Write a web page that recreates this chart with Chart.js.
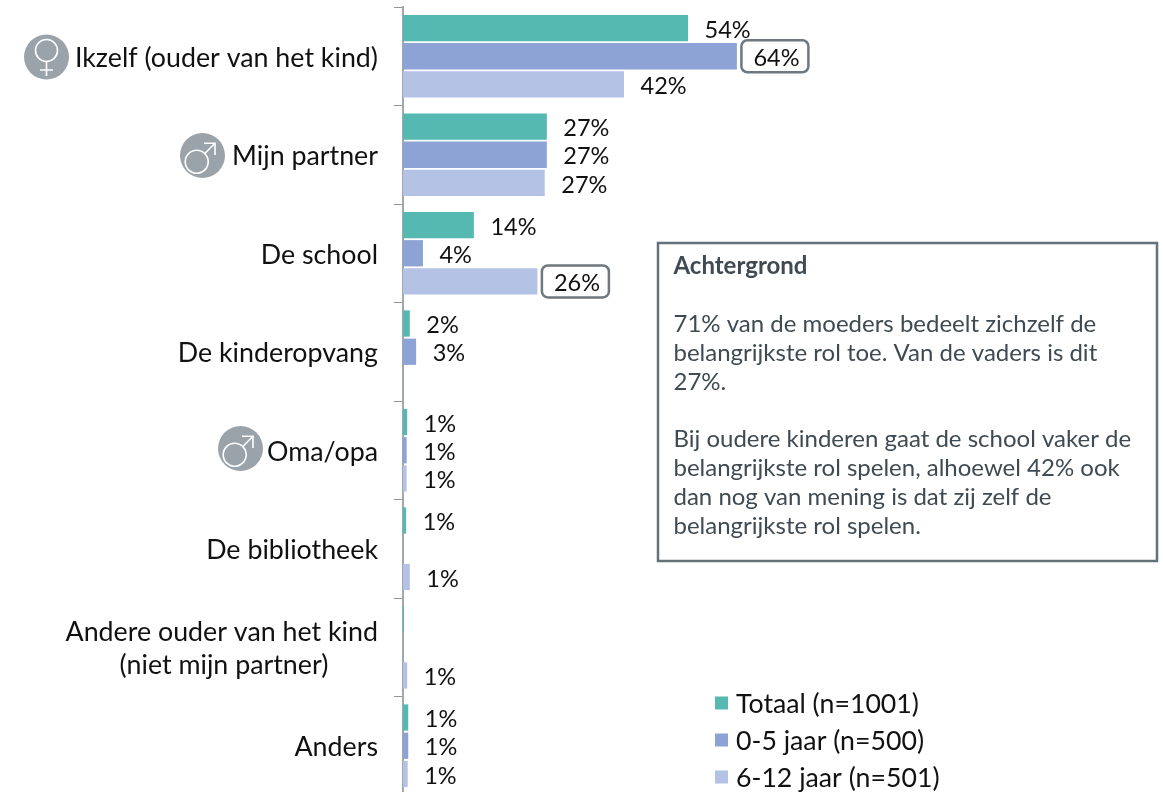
<!DOCTYPE html>
<html>
<head>
<meta charset="utf-8">
<style>
html,body{margin:0;padding:0;background:#fff;overflow:hidden;width:1163px;height:792px}
canvas{display:block}
</style>
<script src="https://cdn.jsdelivr.net/npm/chart.js@4"></script>
</head>
<body>
<canvas id="c" width="1163" height="800"></canvas>
<script>
const categories = ['Ikzelf (ouder van het kind)','Mijn partner','De school','De kinderopvang','Oma/opa','De bibliotheek',['Andere ouder van het kind','(niet mijn partner)\u00A0\u00A0\u00A0\u00A0\u00A0\u00A0\u00A0\u200A'],'Anders'];
const seriesNames = ['Totaal (n=1001)','0-5 jaar (n=500)','6-12 jaar (n=501)'];
const totaal = [54.3,27.4,13.5,1.3,0.8,0.6,0.2,1.0];
const jong   = [63.6,27.4,3.8,2.5,0.7,null,null,1.0];
const oud    = [42.1,27.0,25.6,null,0.7,1.3,0.8,0.9];
const totaalLabels = ['54%','27%','14%','2%','1%','1%','','1%'];
const jongLabels   = ['64%','27%','4%','3%','1%','','','1%'];
const oudLabels    = ['42%','27%','26%','','1%','1%','1%','1%'];
const jongBoxed = [true,false,false,false,false,false,false,false];
const oudBoxed  = [false,false,true,false,false,false,false,false];
const colors = ['#56b9b1','#8da3d6','#b4c2e5'];
const noteTitle = 'Achtergrond';
const noteLines = ['71% van de moeders bedeelt zichzelf de','belangrijkste rol toe. Van de vaders is dit','27%.','','Bij oudere kinderen gaat de school vaker de','belangrijkste rol spelen, alhoewel 42% ook','dan nog van mening is dat zij zelf de','belangrijkste rol spelen.'];
const FONT = 'Lato, Carlito, sans-serif';

function femaleIcon(ctx,x,y){
  ctx.save();ctx.fillStyle='#9aa3aa';ctx.beginPath();ctx.arc(x,y,22.5,0,Math.PI*2);ctx.fill();
  ctx.strokeStyle='#fff';ctx.lineWidth=1.6;
  ctx.beginPath();ctx.arc(x,y-6.5,11,0,Math.PI*2);ctx.stroke();
  ctx.beginPath();ctx.moveTo(x,y+4.5);ctx.lineTo(x,y+19);ctx.moveTo(x-6.5,y+13);ctx.lineTo(x+6.5,y+13);ctx.stroke();
  ctx.restore();
}
function maleIcon(ctx,x,y){
  ctx.save();ctx.fillStyle='#9aa3aa';ctx.beginPath();ctx.arc(x,y,22.5,0,Math.PI*2);ctx.fill();
  ctx.strokeStyle='#fff';ctx.lineWidth=1.6;
  ctx.beginPath();ctx.arc(x-5.8,y+6.2,11.5,0,Math.PI*2);ctx.stroke();
  ctx.beginPath();ctx.moveTo(x+2.3,y-2);ctx.lineTo(x+12.5,y-12.2);
  ctx.moveTo(x+1.5,y-12.2);ctx.lineTo(x+12.5,y-12.2);ctx.lineTo(x+12.5,y-0.5);ctx.stroke();
  ctx.restore();
}
function roundBox(ctx,x,y,w,h,r){
  ctx.beginPath();ctx.roundRect(x,y,w,h,r);ctx.fillStyle='#fff';ctx.fill();
  ctx.strokeStyle='#6d7880';ctx.lineWidth=2.5;ctx.stroke();
}
const extras = {
  id:'extras',
  afterDatasetsDraw(chart){
    const ctx = chart.ctx;
    ctx.save();
    ctx.textBaseline='middle';ctx.textAlign='left';
    chart.data.datasets.forEach((ds,di)=>{
      chart.getDatasetMeta(di).data.forEach((bar,i)=>{
        const t = ds.valueLabels[i];
        if(!t) return;
        const x = bar.x + 16.5, y = bar.y + 2;
        if(ds.boxed && ds.boxed[i]){ roundBox(ctx,x-12,y-18,67,32,6); }
        ctx.fillStyle='#111';ctx.font='23.5px '+FONT;
        ctx.fillText(t,x,y);
      });
    });
    // legend
    const rowY=[704,741,778];
    chart.data.datasets.forEach((ds,di)=>{
      ctx.fillStyle=ds.backgroundColor;ctx.fillRect(715,rowY[di]-7.5,13,13);
      ctx.fillStyle='#111';ctx.font='26.7px '+FONT;
      ctx.fillText(ds.label,736,rowY[di]);
    });
    // note
    ctx.strokeStyle='#66727a';ctx.lineWidth=2.5;ctx.strokeRect(658,243,499,318);
    ctx.fillStyle='#3f4a52';ctx.font='bold 24px '+FONT;
    ctx.fillText(noteTitle,673.5,266);
    ctx.font='24px '+FONT;
    noteLines.forEach((l,i)=>{ if(l) ctx.fillText(l,673.5,324+i*28.9); });
    // icons
    femaleIcon(ctx,46.5,57);
    maleIcon(ctx,202.5,155.5);
    maleIcon(ctx,240.5,448.5);
    ctx.restore();
  }
};
new Chart(document.getElementById('c'),{
  type:'bar',
  data:{labels:categories,datasets:[
    {label:seriesNames[0],data:totaal,backgroundColor:colors[0],valueLabels:totaalLabels},
    {label:seriesNames[1],data:jong,backgroundColor:colors[1],valueLabels:jongLabels,boxed:jongBoxed},
    {label:seriesNames[2],data:oud,backgroundColor:colors[2],valueLabels:oudLabels,boxed:oudBoxed}
  ]},
  options:{
    indexAxis:'y',responsive:false,animation:false,
    layout:{padding:{top:7,bottom:5,right:235,left:0}},
    datasets:{bar:{categoryPercentage:0.86,barPercentage:0.93}},
    plugins:{legend:{display:false},tooltip:{enabled:false}},
    scales:{
      x:{display:false,min:0,max:100},
      y:{
        afterFit(s){
          s.width=403;s.paddingTop=0;s.paddingBottom=0;
          if(!s._shifted){
            const orig=s.drawLabels;
            s.drawLabels=function(area){const c=this.ctx;c.save();c.translate(0,2);orig.call(this,area);c.restore();};
            s._shifted=true;
          }
        },
        border:{color:'#a0a7ad',width:2},
        grid:{drawOnChartArea:false,color:'#8b949a',tickLength:9,tickWidth:1},
        ticks:{autoSkip:false,padding:16,color:'#111',font:{family:FONT,size:26.8,lineHeight:1.23}}
      }
    }
  },
  plugins:[extras]
});
</script>
</body>
</html>
